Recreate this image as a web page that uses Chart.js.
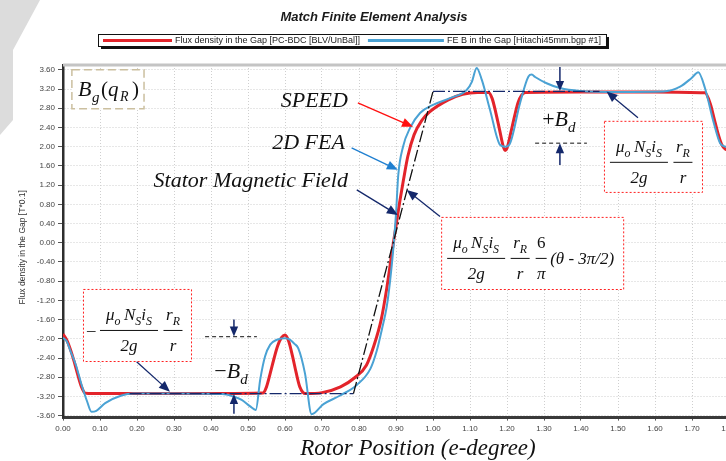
<!DOCTYPE html>
<html>
<head>
<meta charset="utf-8">
<title>Match Finite Element Analysis</title>
<script src="https://cdn.jsdelivr.net/npm/chart.js@4.4.1/dist/chart.umd.min.js"></script>
<style>
  html, body { margin: 0; padding: 0; background: #fff; overflow: hidden; }
  #wrap { width: 750px; height: 461px; }
</style>
</head>
<body>
<div id="wrap"><canvas id="fluxChart" width="750" height="461"></canvas></div>
<script>
// axis ticks
const xTicks = [0.00, 0.10, 0.20, 0.30, 0.40, 0.50, 0.60, 0.70, 0.80, 0.90,
                1.00, 1.10, 1.20, 1.30, 1.40, 1.50, 1.60, 1.70, 1.80];
const yTicks = [-3.6, -3.2, -2.8, -2.4, -2.0, -1.6, -1.2, -0.8, -0.4, 0,
                0.4, 0.8, 1.2, 1.6, 2.0, 2.4, 2.8, 3.2, 3.6];

// SPEED (PC-BDC) air gap flux density
const speedPos = [0.00, 0.01, 0.02, 0.03, 0.04, 0.05, 0.06, 0.08, 0.20, 0.40,
                  0.54, 0.55, 0.56, 0.57, 0.58, 0.59, 0.60, 0.61, 0.62, 0.63, 0.64, 0.655,
                  0.70, 0.75, 0.79, 0.82, 0.84, 0.86, 0.875, 0.89, 0.90, 0.91, 0.92, 0.932,
                  0.949, 0.97, 0.99, 1.04, 1.08, 1.12,
                  1.15, 1.16, 1.17, 1.18, 1.19, 1.195, 1.20, 1.21, 1.22, 1.23, 1.24, 1.25,
                  1.40, 1.60, 1.735, 1.75, 1.76, 1.77, 1.78, 1.79, 1.80];
const speedFlux = [-1.90, -2.02, -2.22, -2.47, -2.75, -3.00, -3.13, -3.14, -3.14, -3.14,
                   -3.13, -3.00, -2.72, -2.42, -2.15, -1.98, -1.92, -2.05, -2.35, -2.70, -3.00, -3.14,
                   -3.12, -3.00, -2.80, -2.55, -2.15, -1.60, -0.95, -0.15, 0.35, 0.85, 1.30, 1.80,
                   2.25, 2.55, 2.72, 2.97, 3.09, 3.13,
                   3.13, 3.00, 2.70, 2.35, 2.00, 1.92, 1.97, 2.28, 2.62, 2.92, 3.08, 3.13,
                   3.14, 3.14, 3.12, 2.88, 2.58, 2.28, 2.05, 1.95, 1.92];

// 2D FEA air gap flux density
const feaPos = [0.00, 0.01, 0.02, 0.035, 0.05, 0.065, 0.077, 0.09, 0.114, 0.158, 0.19,
                0.30, 0.43, 0.46, 0.483, 0.505, 0.521, 0.533, 0.546, 0.56, 0.578, 0.60, 0.614,
                0.625, 0.636, 0.654, 0.672, 0.704, 0.749, 0.794, 0.831, 0.848, 0.862, 0.875, 0.884,
                0.893, 0.900, 0.906, 0.919, 0.938, 0.965, 1.00, 1.046, 1.091, 1.105, 1.118, 1.132,
                1.154, 1.181, 1.195, 1.207, 1.235, 1.258, 1.267, 1.276, 1.307, 1.343, 1.397, 1.50,
                1.623, 1.668, 1.699, 1.717, 1.735, 1.758, 1.776, 1.79, 1.80];
const feaFlux = [-1.98, -2.05, -2.25, -2.55, -2.95, -3.30, -3.52, -3.50, -3.34, -3.18, -3.14,
                 -3.14, -3.15, -3.20, -3.27, -3.40, -3.48, -2.85, -2.37, -2.12, -2.02, -1.99, -2.02,
                 -2.10, -2.20, -2.72, -3.57, -3.36, -3.18, -2.96, -2.62, -2.25, -1.80, -1.33, -0.80,
                 -0.10, 0.60, 1.40, 2.00, 2.39, 2.70, 2.87, 3.01, 3.18, 3.35, 3.64, 3.39,
                 2.77, 2.04, 2.00, 2.05, 2.90, 3.46, 3.50, 3.45, 3.32, 3.22, 3.16, 3.14,
                 3.15, 3.25, 3.43, 3.55, 3.22, 2.52, 2.07, 2.00, 1.98];

// idealised stator magnetic field (trapezoid)
const statorPos = [0.18, 0.785, 1.0, 1.45];
const statorFlux = [-3.14, -3.14, 3.15, 3.15];

const serif = '"Liberation Serif", "Times New Roman", serif';
const sans = '"Liberation Sans", Arial, sans-serif';
const navy = '#14286b';

const toXY = (xs, ys) => xs.map((x, i) => ({ x: x, y: ys[i] }));

// run of math tokens: [text, kind] with kind i = italic, u = upright, s = subscript
function mathRun(ctx, x, y, parts, size, draw) {
    let w = 0;
    parts.forEach(([txt, kind]) => {
        const sub = kind === 's';
        const fs = sub ? size * 0.7 : size;
        ctx.font = (kind === 'u' ? '' : 'italic ') + fs.toFixed(1) + 'px ' + serif;
        if (draw !== false) ctx.fillText(txt, x + w, y + (sub ? size * 0.3 : 0));
        w += ctx.measureText(txt).width;
    });
    return w;
}

function frac(ctx, cx, barY, barW, num, den, size) {
    const nw = mathRun(ctx, 0, 0, num, size, false);
    mathRun(ctx, cx - nw / 2, barY - size * 0.62, num, size);
    const dw = mathRun(ctx, 0, 0, den, size, false);
    mathRun(ctx, cx - dw / 2, barY + size * 1.22, den, size);
    ctx.fillRect(cx - barW / 2, barY - 0.5, barW, 1);
}

function arrow(ctx, x1, y1, x2, y2, color, head, width) {
    head = head || 9;
    const ang = Math.atan2(y2 - y1, x2 - x1);
    ctx.save();
    ctx.strokeStyle = color;
    ctx.fillStyle = color;
    ctx.lineWidth = width || 1.3;
    ctx.setLineDash([]);
    ctx.beginPath();
    ctx.moveTo(x1, y1);
    ctx.lineTo(x2 - Math.cos(ang) * head * 0.8, y2 - Math.sin(ang) * head * 0.8);
    ctx.stroke();
    ctx.beginPath();
    ctx.moveTo(x2, y2);
    ctx.lineTo(x2 - Math.cos(ang) * head + Math.sin(ang) * head * 0.42,
               y2 - Math.sin(ang) * head - Math.cos(ang) * head * 0.42);
    ctx.lineTo(x2 - Math.cos(ang) * head - Math.sin(ang) * head * 0.42,
               y2 - Math.sin(ang) * head + Math.cos(ang) * head * 0.42);
    ctx.closePath();
    ctx.fill();
    ctx.restore();
}

const numParts = [['μ', 'i'], ['o', 's'], ['\u2009', 'u'], ['N', 'i'], ['S', 's'], ['i', 'i'], ['S', 's']];
const rNum = [['r', 'i'], ['R', 's']];

// formula boxes, corners in axis units
const boxes = [
    { x0: 1.022, y0: 0.538, x1: 1.514, y1: -0.963, full: true },
    { x0: 1.462, y0: 2.538, x1: 1.727, y1: 1.058 },
    { x0: 0.054, y0: -0.962, x1: 0.346, y1: -2.462, minus: true }
];

const overlay = {
    id: 'overlay',
    beforeDraw(chart) {
        const ctx = chart.ctx;
        ctx.save();
        ctx.fillStyle = '#fff';
        ctx.fillRect(0, 0, chart.width, chart.height);
        // faint grey backdrop piece in the top-left corner
        ctx.fillStyle = '#dcdcdc';
        ctx.beginPath();
        ctx.moveTo(0, 0);
        ctx.lineTo(40, 0);
        ctx.lineTo(13, 50);
        ctx.lineTo(13, 120);
        ctx.lineTo(0, 135);
        ctx.closePath();
        ctx.fill();
        ctx.restore();
    },
    afterDatasetsDraw(chart) {
        const ctx = chart.ctx;
        const sx = v => chart.scales.x.getPixelForValue(v);
        const sy = v => chart.scales.y.getPixelForValue(v);
        const area = chart.chartArea;
        ctx.save();

        // light frame along the top of the plot
        ctx.fillStyle = '#c4c4c4';
        ctx.fillRect(area.left, area.top - 1.5, area.right - area.left, 3);

        // B_g(q_R) label box
        const bx = sx(0.024), by = sy(3.6), bw = sx(0.219) - bx, bh = sy(2.79) - by;
        ctx.fillStyle = '#fff';
        ctx.fillRect(bx, by, bw, bh);
        ctx.strokeStyle = '#cbbf9f';
        ctx.lineWidth = 1.5;
        ctx.setLineDash([8, 4]);
        ctx.strokeRect(bx, by, bw, bh);
        ctx.setLineDash([]);
        ctx.fillStyle = '#111';
        ctx.textBaseline = 'alphabetic';
        mathRun(ctx, bx + 6, by + 26, [['B', 'i']], 22);
        mathRun(ctx, bx + 20, by + 32, [['g', 'i']], 15);
        mathRun(ctx, bx + 29, by + 26, [['(', 'u']], 21);
        mathRun(ctx, bx + 36, by + 26, [['q', 'i']], 21);
        mathRun(ctx, bx + 48, by + 31, [['R', 'i']], 14);
        mathRun(ctx, bx + 60, by + 26, [[')', 'u']], 21);

        // curve labels
        ctx.textAlign = 'right';
        ctx.font = 'italic 22px ' + serif;
        ctx.textBaseline = 'middle';
        ctx.fillText('SPEED', sx(0.770), sy(2.954));
        ctx.fillText('2D FEA', sx(0.762), sy(2.08));
        ctx.fillText('Stator Magnetic Field', sx(0.770), sy(1.29));
        ctx.textAlign = 'left';
        ctx.textBaseline = 'alphabetic';

        arrow(ctx, sx(0.797), sy(2.913), sx(0.946), sy(2.413), '#ff1010', 11);
        arrow(ctx, sx(0.780), sy(1.975), sx(0.905), sy(1.517), '#1f7fd0', 11);
        arrow(ctx, sx(0.794), sy(1.10), sx(0.905), sy(0.579), navy, 11);
        arrow(ctx, sx(1.019), sy(0.544), sx(0.929), sy(1.10), navy, 11);
        arrow(ctx, sx(1.554), sy(2.60), sx(1.469), sy(3.148), navy, 11);
        arrow(ctx, sx(0.199), sy(-2.477), sx(0.289), sy(-3.102), navy, 11);

        // B_d markers
        ctx.strokeStyle = '#111';
        ctx.lineWidth = 1;
        ctx.setLineDash([4, 3]);
        ctx.beginPath();
        ctx.moveTo(sx(1.276), sy(2.073)); ctx.lineTo(sx(1.416), sy(2.073));
        ctx.moveTo(sx(0.384), sy(-1.956)); ctx.lineTo(sx(0.524), sy(-1.956));
        ctx.stroke();
        ctx.setLineDash([]);
        arrow(ctx, sx(1.343), sy(3.66), sx(1.343), sy(3.16), navy, 10, 1.5);
        arrow(ctx, sx(1.343), sy(1.62), sx(1.343), sy(2.073), navy, 10, 1.5);
        arrow(ctx, sx(0.462), sy(-1.60), sx(0.462), sy(-1.95), navy, 10, 1.5);
        arrow(ctx, sx(0.462), sy(-3.56), sx(0.462), sy(-3.15), navy, 10, 1.5);

        ctx.fillStyle = '#111';
        let w = mathRun(ctx, sx(1.295), sy(2.433), [['+', 'u']], 22);
        w += mathRun(ctx, sx(1.295) + w, sy(2.433), [['B', 'i']], 22);
        mathRun(ctx, sx(1.295) + w, sy(2.433) + 6, [['d', 'i']], 15);
        w = mathRun(ctx, sx(0.409), sy(-2.817), [['\u2212', 'u']], 22);
        w += mathRun(ctx, sx(0.409) + w, sy(-2.817), [['B', 'i']], 22);
        mathRun(ctx, sx(0.409) + w, sy(-2.817) + 6, [['d', 'i']], 15);

        // formula boxes
        boxes.forEach(b => {
            const x0 = sx(b.x0), y0 = sy(b.y0), x1 = sx(b.x1), y1 = sy(b.y1);
            ctx.fillStyle = '#fff';
            ctx.fillRect(x0, y0, x1 - x0, y1 - y0);
            ctx.strokeStyle = '#ff2020';
            ctx.lineWidth = 1;
            ctx.setLineDash([2, 2]);
            ctx.strokeRect(x0 + 0.5, y0 + 0.5, x1 - x0, y1 - y0);
            ctx.setLineDash([]);
            ctx.fillStyle = '#111';
            const barY = y0 + 41.5;
            const lead = b.minus ? 11 : 0;
            if (b.minus) mathRun(ctx, x0 + 4, barY + 5, [['\u2013', 'u']], 17);
            frac(ctx, x0 + lead + 35, barY, 58, numParts, [['2g', 'i']], 17);
            frac(ctx, x0 + lead + 79, barY, 19, rNum, [['r', 'i']], 17);
            if (b.full) {
                frac(ctx, x0 + 100, barY, 11, [['6', 'u']], [['π', 'i']], 17);
                mathRun(ctx, x0 + 109, barY + 5.5, [['(θ - 3π/2)', 'i']], 17);
            }
        });

        ctx.restore();
    },
    afterDraw(chart) {
        const ctx = chart.ctx;
        const area = chart.chartArea;
        ctx.save();

        // title
        ctx.fillStyle = '#1a1a1a';
        ctx.font = 'italic bold 13px ' + sans;
        ctx.textAlign = 'center';
        ctx.textBaseline = 'middle';
        ctx.fillText('Match Finite Element Analysis', 374, 17);

        // legend with drop shadow
        const ds = chart.data.datasets;
        ctx.font = '9px ' + sans;
        ctx.textAlign = 'left';
        const lx = 98, ly = 34, lh = 12;
        const sample = [69, 76];
        let lw = 5;
        [ds[0], ds[1]].forEach((d, i) => {
            lw += sample[i] + 3 + ctx.measureText(d.label).width + (i === 0 ? 8 : 5);
        });
        ctx.fillStyle = '#111';
        ctx.fillRect(lx + 3, ly + 3, lw, lh);
        ctx.fillStyle = '#fff';
        ctx.fillRect(lx, ly, lw, lh);
        ctx.strokeStyle = '#111';
        ctx.lineWidth = 1;
        ctx.strokeRect(lx + 0.5, ly + 0.5, lw, lh);
        let cx = lx + 5;
        const cy = ly + lh / 2 + 0.5;
        [ds[0], ds[1]].forEach((d, i) => {
            ctx.strokeStyle = d.borderColor;
            ctx.lineWidth = 3;
            ctx.beginPath();
            ctx.moveTo(cx, cy);
            ctx.lineTo(cx + sample[i], cy);
            ctx.stroke();
            cx += sample[i] + 3;
            ctx.fillStyle = '#222';
            ctx.fillText(d.label, cx, cy);
            cx += ctx.measureText(d.label).width + 8;
        });

        // axis titles
        ctx.fillStyle = '#333';
        ctx.font = '8.5px ' + sans;
        ctx.textAlign = 'center';
        ctx.save();
        ctx.translate(23, (area.top + area.bottom) / 2 + 6);
        ctx.rotate(-Math.PI / 2);
        ctx.fillText('Flux density in the Gap [T*0.1]', 0, 0);
        ctx.restore();

        ctx.fillStyle = '#111';
        ctx.font = 'italic 23px ' + serif;
        ctx.textBaseline = 'alphabetic';
        ctx.fillText('Rotor Position (e-degree)', 418, 455);
        ctx.restore();
    }
};

new Chart(document.getElementById('fluxChart'), {
    type: 'line',
    data: {
        datasets: [
            {
                label: 'Flux density in the Gap [PC-BDC [BLV/UnBal]]',
                data: toXY(speedPos, speedFlux),
                borderColor: '#e3242b',
                borderWidth: 3,
                cubicInterpolationMode: 'monotone',
                pointRadius: 0,
                order: 3
            },
            {
                label: 'FE B in the Gap [Hitachi45mm.bgp #1]',
                data: toXY(feaPos, feaFlux),
                borderColor: '#4aa2d4',
                borderWidth: 2,
                cubicInterpolationMode: 'monotone',
                pointRadius: 0,
                order: 2
            },
            {
                label: 'Stator Magnetic Field',
                data: toXY(statorPos, statorFlux),
                borderColor: navy,
                borderWidth: 1.3,
                borderDash: [12, 3, 2, 3],
                pointRadius: 0,
                tension: 0,
                segment: {
                    borderColor: c => c.p0.parsed.y !== c.p1.parsed.y ? '#111' : navy
                },
                order: 1
            }
        ]
    },
    options: {
        responsive: false,
        animation: false,
        layout: { padding: { top: 65, left: 0, right: 21, bottom: 0 } },
        plugins: {
            legend: { display: false },
            title: { display: false },
            tooltip: { enabled: false }
        },
        scales: {
            x: {
                type: 'linear',
                min: 0,
                max: 1.8,
                afterBuildTicks: scale => { scale.ticks = xTicks.map(v => ({ value: v })); },
                afterFit: scale => { scale.height = 43.4; },
                ticks: {
                    autoSkip: false,
                    maxRotation: 0,
                    padding: 3,
                    color: '#444',
                    font: { family: sans, size: 8 },
                    callback: v => v.toFixed(2)
                },
                grid: { color: '#cfcfcf', lineWidth: 1, tickLength: 3, tickColor: '#555', tickBorderDash: [] },
                border: { display: true, color: '#3a3a3a', width: 3, dash: [1, 2] }
            },
            y: {
                min: -3.64,
                max: 3.7,
                afterBuildTicks: scale => { scale.ticks = yTicks.map(v => ({ value: v })); },
                afterFit: scale => { scale.width = 63; },
                ticks: {
                    autoSkip: false,
                    padding: 3,
                    color: '#444',
                    font: { family: sans, size: 8 },
                    callback: v => v.toFixed(2)
                },
                grid: { color: '#cfcfcf', lineWidth: 1, tickLength: 5, tickColor: '#555', tickBorderDash: [] },
                border: { display: true, color: '#2e2e2e', width: 2.5, dash: [1, 2] }
            }
        }
    },
    plugins: [overlay]
});
</script>
</body>
</html>
